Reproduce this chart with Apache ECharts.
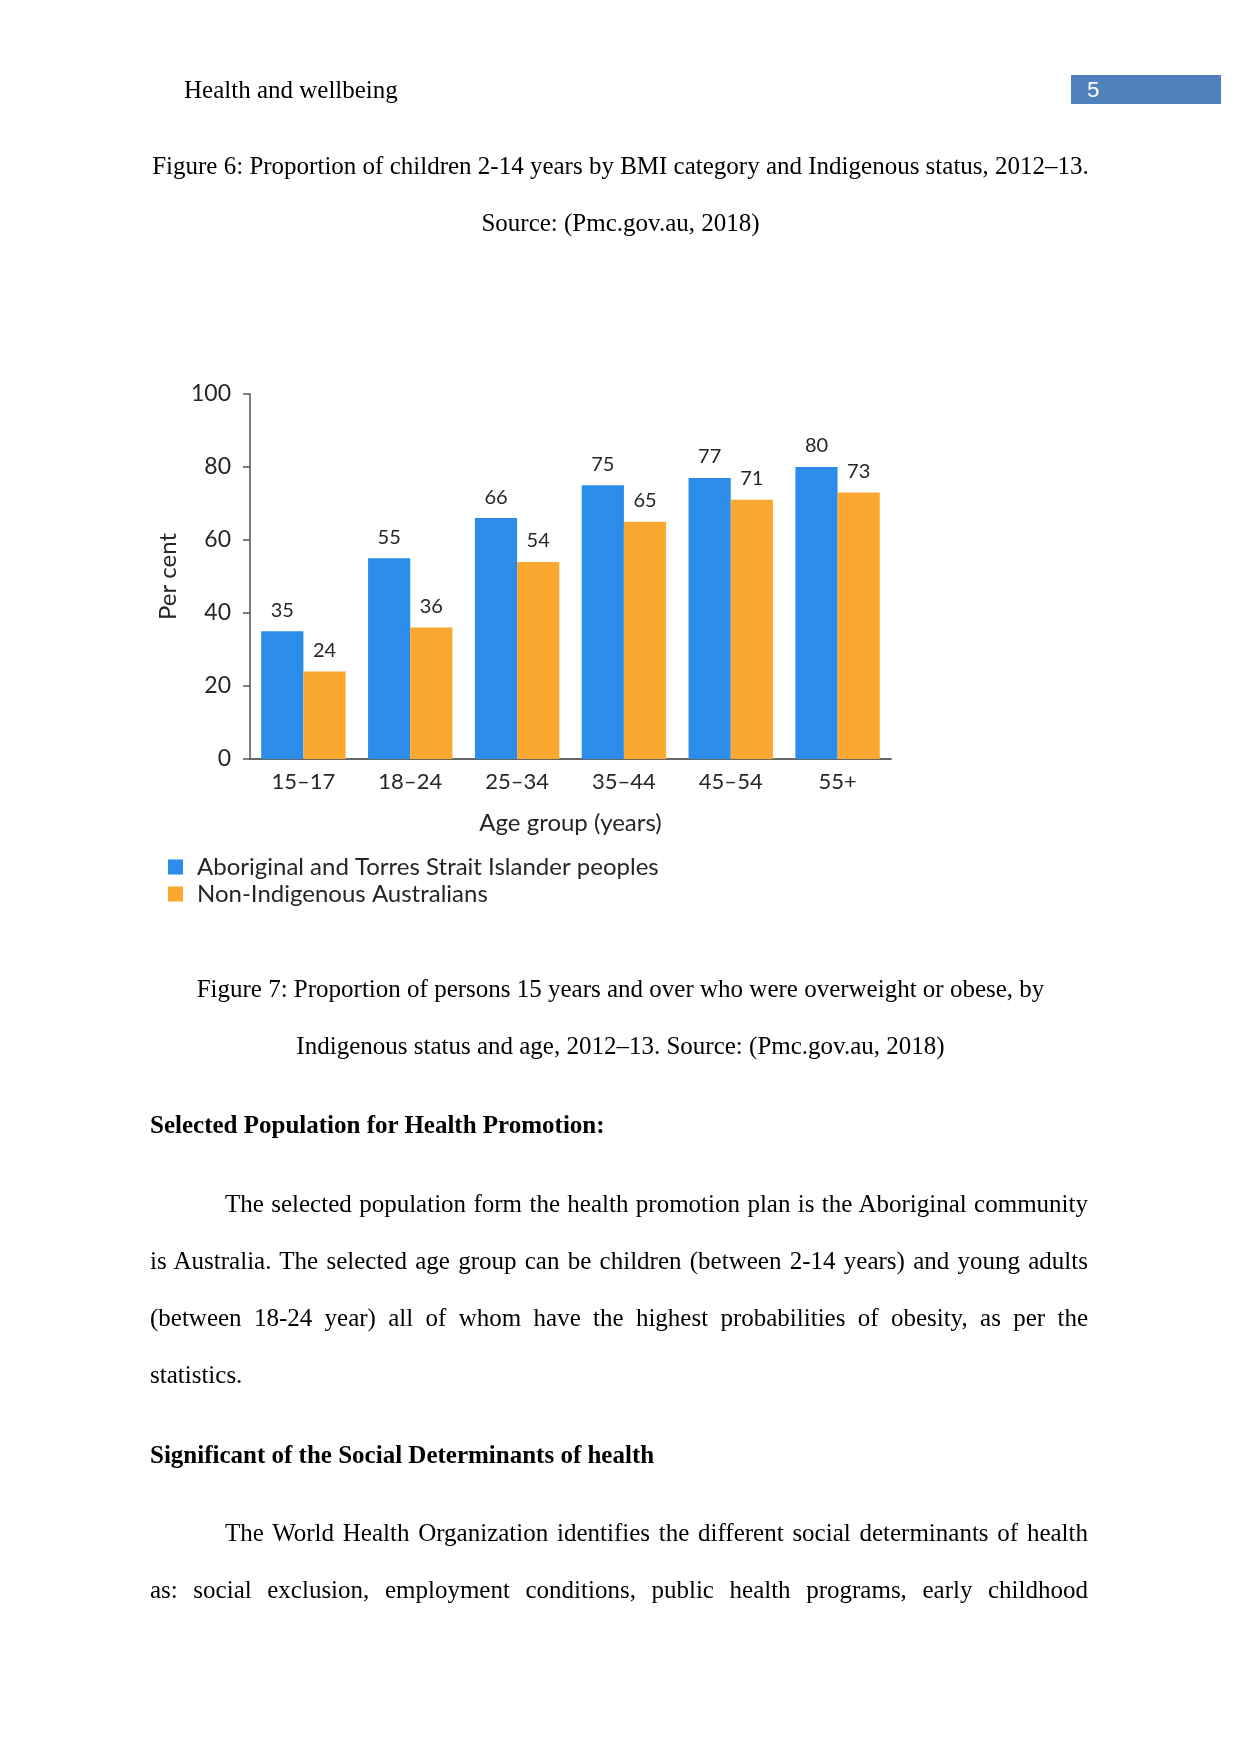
<!DOCTYPE html>
<html>
<head>
<meta charset="utf-8">
<script src="https://cdn.jsdelivr.net/npm/echarts@6/dist/echarts.min.js"></script>
<style>
  html, body { margin: 0; padding: 0; background: #fff; }
  #page { position: relative; width: 1241px; height: 1754px; overflow: hidden; background: #fff; }
  #chart { position: absolute; left: 0; top: 0; width: 1241px; height: 1754px; }
  .t { position: absolute; font-family: "Liberation Serif", "Times New Roman", serif; font-size: 25px; color: #000; line-height: 30px; height: 30px; white-space: nowrap; z-index: 2; }
  .c { left: 0; width: 1241px; text-align: center; }
  .j { left: 150px; width: 938px; text-align: justify; text-align-last: justify; }
  .b { font-weight: bold; }
  #pnum { position: absolute; left: 1071px; top: 75px; width: 150px; height: 29px; background: #4f81bd; z-index: 2; }
  #pnum span { position: absolute; left: 16px; top: 0; font-family: "Liberation Sans", "Open Sans", sans-serif; font-size: 22px; line-height: 29px; color: #fff; }
</style>
</head>
<body>
<div id="page">
  <div id="chart"></div>
  <div class="t" style="left:184px; top:75px;">Health and wellbeing</div>
  <div id="pnum"><span>5</span></div>
  <div class="t c" style="top:151px;">Figure 6: Proportion of children 2-14 years by BMI category and Indigenous status, 2012–13.</div>
  <div class="t c" style="top:208px;">Source: (Pmc.gov.au, 2018)</div>
  <div class="t c" style="top:974px;">Figure 7: Proportion of persons 15 years and over who were overweight or obese, by</div>
  <div class="t c" style="top:1031px;">Indigenous status and age, 2012–13. Source: (Pmc.gov.au, 2018)</div>
  <div class="t b" style="left:150px; top:1110px;">Selected Population for Health Promotion:</div>
  <div class="t j" style="top:1189px; left:225px; width:863px;">The selected population form the health promotion plan is the Aboriginal community</div>
  <div class="t j" style="top:1246px;">is Australia. The selected age group can be children (between 2-14 years) and young adults</div>
  <div class="t j" style="top:1303px;">(between 18-24 year) all of whom have the highest probabilities of obesity, as per the</div>
  <div class="t" style="left:150px; top:1360px;">statistics.</div>
  <div class="t b" style="left:150px; top:1440px;">Significant of the Social Determinants of health</div>
  <div class="t j" style="top:1518px; left:225px; width:863px;">The World Health Organization identifies the different social determinants of health</div>
  <div class="t j" style="top:1575px;">as: social exclusion, employment conditions, public health programs, early childhood</div>
</div>
<script>
// ---- data ----
const ageGroups = ['15–17', '18–24', '25–34', '35–44', '45–54', '55+'];
const aboriginal = [35, 55, 66, 75, 77, 80];
const nonIndigenous = [24, 36, 54, 65, 71, 73];
const seriesNames = ['Aboriginal and Torres Strait Islander peoples', 'Non-Indigenous Australians'];
const yTicks = [0, 20, 40, 60, 80, 100];
const yTitle = 'Per cent';
const xTitle = 'Age group (years)';

const chartFont = 'Lato, "Open Sans", sans-serif';
const txt = '#262626';
const chart = echarts.init(document.getElementById('chart'), null, { renderer: 'canvas' });
chart.setOption({
  animation: false,
  backgroundColor: 'transparent',
  textStyle: { fontFamily: chartFont },
  grid: { left: 250, top: 394, width: 641, height: 365, containLabel: false },
  legend: {
    orient: 'vertical', left: 168, top: 855, padding: 0,
    itemWidth: 15, itemHeight: 15, itemGap: 3, icon: 'rect',
    textStyle: { fontFamily: chartFont, fontSize: 24, color: txt, padding: [0, 0, 0, 9] },
    data: seriesNames
  },
  xAxis: {
    type: 'category', data: ageGroups,
    name: xTitle, nameLocation: 'middle', nameGap: 52,
    nameTextStyle: { fontFamily: chartFont, fontSize: 24, color: txt },
    axisLine: { lineStyle: { color: '#666', width: 2 } },
    axisTick: { show: false },
    axisLabel: { fontFamily: chartFont, fontSize: 22, color: txt, margin: 12 }
  },
  yAxis: {
    type: 'value', min: yTicks[0], max: yTicks[yTicks.length - 1], interval: 20,
    name: yTitle, nameLocation: 'middle', nameGap: 52, nameRotate: 90,
    nameTextStyle: { fontFamily: chartFont, fontSize: 24, color: txt },
    axisLine: { show: true, lineStyle: { color: '#555', width: 1.5 } },
    axisTick: { show: true, length: 7, inside: false, lineStyle: { color: '#555', width: 1.5 } },
    splitLine: { show: false },
    axisLabel: { fontFamily: chartFont, fontSize: 23, color: txt, margin: 19 }
  },
  series: [
    {
      name: seriesNames[0], type: 'bar', data: aboriginal,
      barGap: '0%', barCategoryGap: '21%',
      itemStyle: { color: '#2b8de9' },
      label: { show: true, position: 'top', distance: 11, fontFamily: chartFont, fontSize: 20, color: txt }
    },
    {
      name: seriesNames[1], type: 'bar', data: nonIndigenous,
      barGap: '0%', barCategoryGap: '21%',
      itemStyle: { color: '#fba830' },
      label: { show: true, position: 'top', distance: 11, fontFamily: chartFont, fontSize: 20, color: txt }
    }
  ]
});
</script>
</body>
</html>
